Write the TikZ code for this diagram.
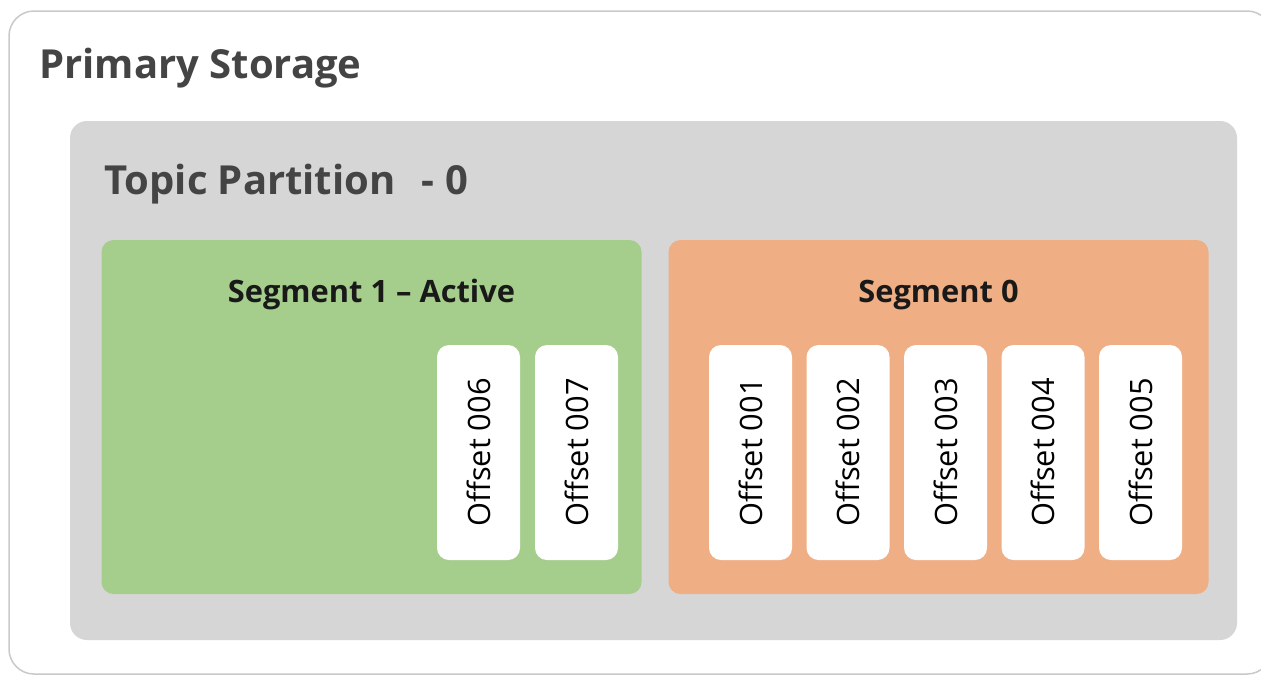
\documentclass[tikz,border=0pt]{standalone}
\usepackage{fontspec}
\setmainfont{Open Sans}
\usepackage{tikz}
\usetikzlibrary{positioning}

\definecolor{storeline}{HTML}{C9C9C9}
\definecolor{partgray}{HTML}{D6D6D6}
\definecolor{activegreen}{HTML}{A5CD8B}
\definecolor{oldorange}{HTML}{EFAE84}
\definecolor{titlegray}{HTML}{444444}

\begin{document}
\begin{tikzpicture}[x=0.5pt, y=-0.5pt,
  storage/.style={draw=storeline, line width=0.75pt, fill=white, rounded corners=12.5pt,
    minimum width=631.5pt, minimum height=331.5pt, inner sep=0pt},
  partition/.style={fill=partgray, rounded corners=8.5pt,
    minimum width=583.5pt, minimum height=259.5pt, inner sep=0pt},
  segbox/.style={rounded corners=6pt, minimum width=270pt, minimum height=177pt, inner sep=0pt},
  offset/.style={fill=white, rounded corners=6pt, rotate=90, inner sep=0pt,
    minimum width=107.5pt, minimum height=41.5pt, font=\fontsize{15.4}{18}\selectfont},
  bigtitle/.style={anchor=base west, inner sep=0pt, text=titlegray,
    font=\fontsize{20}{24}\selectfont\bfseries},
  segtitle/.style={anchor=base, inner sep=0pt, text=black!90,
    font=\fontsize{15.4}{18}\selectfont\bfseries}
  ]
  \useasboundingbox (0,0) rectangle (1261,675);

  % Boxes
  \node[storage] (store) at (640.5,342.5) {};
  \node[partition] (part) at (653.5,380.5) {};
  \node[segbox, fill=activegreen] (seg1) at (371.5,417) {};
  \node[segbox, fill=oldorange] (seg0) at (938.5,417) {};

  % Titles
  \node[bigtitle] (storetitle) at (39,78) {Primary Storage};
  \node[bigtitle] (parttitle) at (104,194) {Topic Partition\hspace{0.4em} - 0};
  \node[segtitle] (seg1title) at (seg1.north |- 0,302) {Segment 1 – Active};
  \node[segtitle] (seg0title) at (seg0.north |- 0,302) {Segment 0};

  % Offsets
  \node[offset] (off6) at (478.5,452.5) {Offset 006};
  \node[offset] (off7) at (576.5,452.5) {Offset 007};
  \foreach \i in {1,...,5}
    \node[offset] (off\i) at ({750.5+97.5*(\i-1)},452.5) {Offset 00\i};

\end{tikzpicture}
\end{document}
